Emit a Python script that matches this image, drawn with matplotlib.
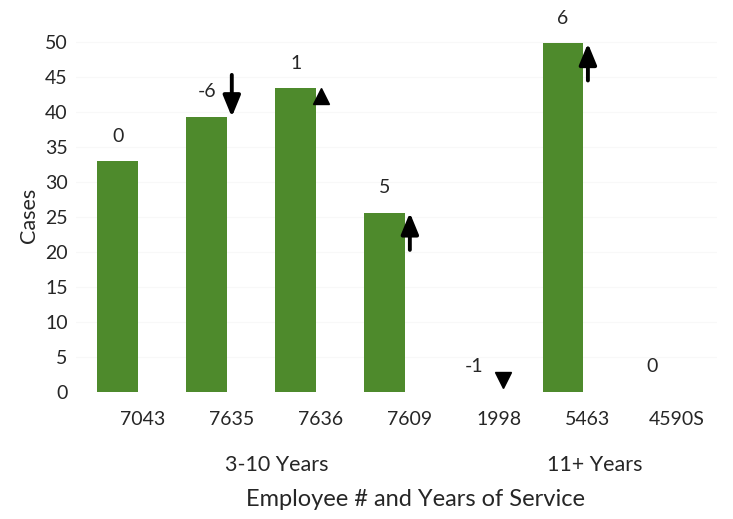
import matplotlib
matplotlib.use("Agg")
import matplotlib.pyplot as plt

employees = ["7043", "7635", "7636", "7609", "1998", "5463", "4590S"]
cases = [33.0, 39.3, 43.4, 25.6, 0.0, 49.8, 0.0]
changes = ["0", "-6", "1", "5", "-1", "6", "0"]
trend = ["", "down_arrow", "up_tri", "up_arrow", "down_tri", "up_arrow", ""]
groups = ["3-10 Years", "11+ Years"]
yticks = list(range(0, 51, 5))

plt.rcParams['font.family'] = ['Lato', 'DejaVu Sans']
GREEN = '#4e8a2c'
TXT = '#262626'

fig = plt.figure(figsize=(7.33, 5.19), dpi=100)
ax = fig.add_axes([76/733, 1 - 392/519, 641/733, 385/519])

bar_off = -0.28
xs = list(range(len(employees)))
bx = [x + bar_off for x in xs]
ax.bar(bx, cases, width=0.46, color=GREEN, zorder=2)

for x, v, t in zip(bx, cases, changes):
    ax.annotate(t, (x, v), xytext=(0, 18), textcoords='offset points',
                ha='center', va='center', fontsize=14, color=TXT)

for x, v, tr in zip(xs, cases, trend):
    ap = dict(arrowstyle='-|>,head_length=0.85,head_width=0.35', lw=2.8,
              color='black', mutation_scale=15, shrinkA=0, shrinkB=0)
    if tr == 'down_arrow':
        ax.annotate('', xy=(x, v), xytext=(x, v + 6.0), arrowprops=ap, zorder=3)
    elif tr == 'up_arrow':
        ax.annotate('', xy=(x, v), xytext=(x, v - 5.3), arrowprops=ap, zorder=3)
    elif tr == 'up_tri':
        ax.plot([x], [v - 1.1], marker='^', ms=12, color='black', zorder=3)
    elif tr == 'down_tri':
        ax.plot([x + 0.05], [v + 1.7], marker='v', ms=12, color='black', zorder=3)

ax.set_xlim(-0.75, 6.45)
ax.set_ylim(0, 55)
ax.set_yticks(yticks)
ax.set_xticks(xs)
ax.set_xticklabels(employees)
ax.tick_params(axis='both', length=0, labelsize=14, labelcolor=TXT)
ax.tick_params(axis='x', pad=14)
ax.tick_params(axis='y', pad=6)
for s in ax.spines.values():
    s.set_visible(False)
for y in yticks[1:]:
    ax.axhline(y, color='#f8f8f8', lw=0.8, zorder=0)

ax.set_ylabel('Cases', fontsize=15.5, color=TXT)
ax.yaxis.set_label_coords(-0.058, 0.46)

group_px = [277, 595]
for g, xp in zip(groups, group_px):
    fig.text(xp / 733, 1 - 465/519, g, ha='center', va='center',
             fontsize=15.5, color=TXT)
fig.text(416/733, 1 - 500/519, 'Employee # and Years of Service', ha='center',
         va='center', fontsize=17, color=TXT)

fig.savefig('out.png', dpi=100)
